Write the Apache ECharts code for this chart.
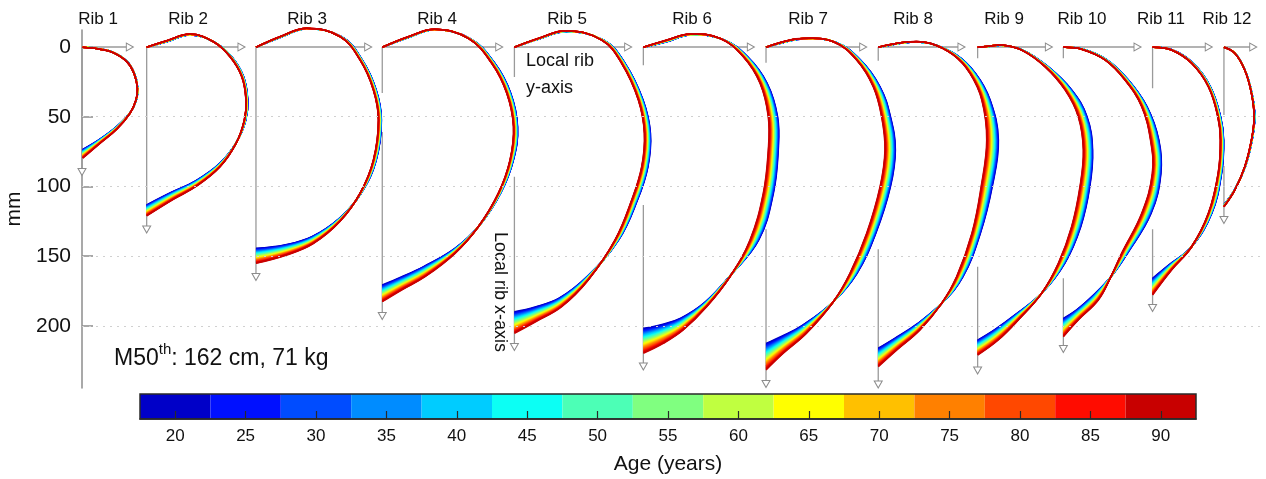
<!DOCTYPE html>
<html>
<head>
<meta charset="utf-8">
<script src="https://cdn.jsdelivr.net/npm/echarts@6/dist/echarts.min.js"></script>
<style>
  html, body { margin: 0; padding: 0; background: #fff; }
  #chart { width: 1266px; height: 479px; }
</style>
</head>
<body>
<div id="chart"></div>
<script>
// ---- data (mm) ----
const RIB_NAMES = ['Rib 1', 'Rib 2', 'Rib 3', 'Rib 4', 'Rib 5', 'Rib 6', 'Rib 7', 'Rib 8', 'Rib 9', 'Rib 10', 'Rib 11', 'Rib 12'];
const RIB_ORIGIN_X = [0, 46.4, 124.8, 215.4, 310.2, 402.7, 490.7, 571.2, 642.5, 704.0, 768.0, 819.2];
// local axes: horizontal arrow end, vertical arrow end, gap in vertical axis
const H_ARROW_END = [34.3, 114.4, 205.3, 299.3, 391.8, 479.8, 560.4, 630.9, 693.6, 757.2, 808.3, 840.2];
const V_ARROW_END = [89.7, 130.9, 165.0, 192.9, 215.2, 229.2, 241.7, 242.1, 232.1, 216.6, 187.2, 124.1];
const V_GAP_FROM = [null, null, null, 33, 21.5, 13, 11.3, 9.8, 8.1, 8.1, 29.6, 48.8];
const V_GAP_TO = [null, null, null, 61, 93, 113.3, 130.8, 145.1, 157.6, 165.9, 130.8, 85.4];

const Y_TICKS = [0, 50, 100, 150, 200];
const AGE_TICKS = ['20', '25', '30', '35', '40', '45', '50', '55', '60', '65', '70', '75', '80', '85', '90'];
const AGE_COLORS = ['#0000c8', '#0010ff', '#004cff', '#008cff', '#00ccff', '#0cfff4', '#4cffb6', '#80ff80', '#c0ff40',
  '#ffff00', '#ffc000', '#ff8000', '#ff4800', '#ff0c00', '#c80000'];
const AGE_YOUNG = 18, AGE_OLD = 92, AGE_STEP = 2;

// rib centrelines, youngest and oldest age
const RIB1_YOUNG = [[0.5,0.2],[12.9,1.4],[22.5,3.8],[32.3,10.3],[37.6,18.9],[40.0,29.6],[39.0,38.0],[34.6,47.0],[24.9,57.0],[12.9,66.0],[0.5,73.4]];
const RIB1_OLD = [[0.5,0.2],[12.9,1.6],[22.5,4.1],[32.1,10.5],[37.3,18.9],[39.7,29.6],[38.7,38.0],[34.4,47.6],[24.9,59.0],[12.9,69.1],[0.5,79.8]];
const RIB2_YOUNG = [[46.4,0.2],[60.8,-3.8],[77.5,-8.6],[95.0,-3.5],[107.2,6.8],[115.8,21.0],[118.9,38.0],[117.5,52.4],[111.0,68.0],[98.8,83.5],[81.5,96.0],[64.5,104.0],[46.4,113.2]];
const RIB2_OLD = [[46.4,0.2],[60.8,-4.5],[77.5,-9.3],[94.2,-3.8],[106.2,7.0],[114.6,21.3],[117.6,38.0],[116.4,52.4],[110.5,69.1],[99.0,85.9],[82.3,99.7],[65.5,109.3],[46.4,121.2]];
const RIB3_YOUNG = [[124.8,0.2],[142.0,-6.8],[161.2,-13.0],[186.5,-7.2],[201.0,9.2],[211.0,30.6],[214.8,52.4],[211.0,81.5],[200.5,104.5],[185.1,122.5],[165.0,136.0],[146.0,141.8],[124.8,144.4]];
const RIB3_OLD = [[124.8,0.2],[142.0,-7.4],[161.2,-13.4],[185.1,-7.4],[199.4,9.3],[209.0,30.8],[212.6,52.4],[209.0,81.1],[199.4,105.0],[185.1,125.0],[165.9,141.0],[146.8,149.2],[124.8,155.2]];
const RIB4_YOUNG = [[215.4,0.2],[234.1,-6.8],[253.2,-12.3],[278.5,-6.0],[296.0,11.5],[307.5,33.0],[312.5,57.2],[309.5,81.1],[300.5,104.5],[285.5,127.5],[267.5,144.5],[245.0,157.5],[229.0,165.0],[215.4,170.7]];
const RIB4_OLD = [[215.4,0.2],[234.1,-7.4],[253.2,-12.7],[277.1,-6.2],[293.9,11.7],[304.7,33.2],[309.5,57.2],[307.0,81.1],[298.6,105.0],[284.3,128.9],[267.6,148.0],[246.1,164.8],[229.3,174.3],[215.4,182.7]];
const RIB5_YOUNG = [[310.2,0.2],[327.3,-5.6],[347.7,-11.0],[374.5,-4.8],[389.5,11.5],[402.5,38.0],[407.8,61.9],[406.0,85.9],[398.5,109.8],[385.0,138.4],[362.5,164.5],[342.5,180.0],[325.0,186.5],[310.2,189.9]];
const RIB5_OLD = [[310.2,0.2],[327.3,-6.2],[347.7,-11.7],[372.8,-5.0],[387.1,11.7],[399.1,38.0],[403.4,61.9],[401.5,85.9],[394.3,109.8],[382.4,138.4],[363.2,167.1],[344.1,186.3],[325.4,197.1],[310.2,205.4]];
const RIB6_YOUNG = [[402.7,0.2],[419.5,-3.8],[436.2,-8.6],[459.5,-5.5],[477.5,7.0],[491.5,26.0],[499.0,50.0],[499.5,73.9],[496.0,105.0],[485.5,138.4],[465.0,164.0],[447.0,183.0],[429.5,194.5],[416.0,199.0],[402.7,201.8]];
const RIB6_OLD = [[402.7,0.2],[419.5,-5.0],[436.2,-9.3],[457.7,-6.2],[474.4,7.0],[486.4,26.0],[492.3,50.0],[492.3,73.9],[488.7,105.0],[479.2,138.4],[464.8,164.8],[448.1,186.3],[431.3,203.0],[417.0,212.6],[402.7,219.7]];
const RIB7_YOUNG = [[490.7,0.2],[503.1,-3.2],[517.4,-5.8],[540.5,-3.5],[558.5,9.3],[572.5,28.5],[580.0,50.0],[583.5,73.9],[580.0,100.2],[569.5,133.6],[556.0,162.3],[539.0,182.7],[517.0,199.5],[502.0,207.5],[490.7,212.6]];
const RIB7_OLD = [[490.7,0.2],[503.1,-3.8],[517.4,-6.2],[539.0,-3.8],[555.7,9.3],[567.6,28.5],[573.6,50.0],[576.0,73.9],[572.5,100.2],[562.9,133.6],[550.9,162.3],[539.0,182.7],[519.7,205.4],[503.1,219.7],[490.7,231.7]];
const RIB8_YOUNG = [[571.2,0.2],[582.0,-1.8],[594.0,-3.4],[609.0,-2.4],[627.0,5.5],[641.0,18.9],[651.5,38.0],[657.4,66.7],[653.0,100.2],[644.5,133.6],[632.0,164.8],[616.7,183.9],[598.5,199.0],[583.0,209.0],[571.2,216.1]];
const RIB8_OLD = [[571.2,0.2],[582.0,-2.2],[594.0,-3.8],[608.3,-2.7],[625.1,5.7],[637.0,18.9],[645.5,38.0],[649.0,66.7],[645.0,100.2],[638.4,133.6],[627.4,164.8],[616.7,183.9],[601.1,203.0],[584.4,217.4],[571.2,229.3]];
const RIB9_YOUNG = [[642.5,0.2],[651.4,-0.5],[659.7,-1.2],[675.0,2.2],[693.0,14.1],[710.0,30.8],[721.0,50.0],[725.0,73.9],[723.0,100.2],[716.5,128.9],[705.0,155.2],[688.4,176.7],[669.5,192.0],[655.0,202.5],[642.5,210.2]];
const RIB9_OLD = [[642.5,0.2],[651.4,-0.7],[659.7,-1.4],[674.1,2.2],[690.8,14.1],[705.2,30.8],[714.7,50.0],[718.3,73.9],[715.9,100.2],[709.9,128.9],[700.4,155.2],[688.4,176.7],[671.7,195.8],[657.3,210.2],[642.5,221.0]];
const RIB10_YOUNG = [[704.0,0.2],[717.5,1.4],[735.0,9.0],[750.5,23.5],[764.0,42.8],[772.5,66.7],[774.0,90.6],[767.0,119.3],[750.0,148.0],[738.0,165.0],[726.0,177.5],[713.5,188.5],[704.0,194.6]];
const RIB10_OLD = [[704.0,0.2],[717.1,1.6],[733.9,9.3],[748.2,23.7],[760.2,42.8],[766.5,66.7],[767.8,90.6],[760.2,119.3],[745.8,148.0],[738.0,165.0],[729.1,181.5],[714.7,195.8],[704.0,207.8]];
const RIB11_YOUNG = [[768.0,0.2],[782.0,2.0],[797.0,11.5],[809.5,28.5],[816.8,50.0],[819.0,66.7],[817.5,90.6],[810.5,119.3],[796.0,143.3],[779.5,156.5],[768.0,165.9]];
const RIB11_OLD = [[768.0,0.2],[781.6,2.2],[796.0,11.7],[808.0,28.5],[814.8,50.0],[816.6,66.7],[815.0,90.6],[808.0,119.3],[796.0,143.3],[781.6,160.0],[768.0,177.9]];
const RIB12_YOUNG = [[819.2,0.2],[827.0,4.3],[834.3,16.5],[839.3,33.2],[841.3,50.0],[839.4,66.7],[834.5,85.9],[827.2,101.8],[819.2,113.2]];
const RIB12_OLD = [[819.2,0.2],[827.0,4.5],[834.1,16.5],[838.9,33.2],[840.8,50.0],[838.9,66.7],[834.1,85.9],[827.0,102.6],[819.2,114.6]];

const YOUNG = [RIB1_YOUNG, RIB2_YOUNG, RIB3_YOUNG, RIB4_YOUNG, RIB5_YOUNG, RIB6_YOUNG, RIB7_YOUNG, RIB8_YOUNG, RIB9_YOUNG, RIB10_YOUNG, RIB11_YOUNG, RIB12_YOUNG];
const OLD = [RIB1_OLD, RIB2_OLD, RIB3_OLD, RIB4_OLD, RIB5_OLD, RIB6_OLD, RIB7_OLD, RIB8_OLD, RIB9_OLD, RIB10_OLD, RIB11_OLD, RIB12_OLD];

const FONT = '"Liberation Sans", Arial, Helvetica, sans-serif';
const AXIS_GREY = '#8c8c8c';

// jet-like colour for an age, blended between the colour bar bins
function hex2rgb(h) {
  return [parseInt(h.substr(1, 2), 16), parseInt(h.substr(3, 2), 16), parseInt(h.substr(5, 2), 16)];
}
function colorForAge(age) {
  let t = (age - 20) / 5;
  t = Math.max(0, Math.min(AGE_COLORS.length - 1, t));
  let i = Math.floor(t), f = t - i;
  if (i >= AGE_COLORS.length - 1) { i = AGE_COLORS.length - 2; f = 1; }
  const a = hex2rgb(AGE_COLORS[i]), b = hex2rgb(AGE_COLORS[i + 1]);
  const c = a.map((v, k) => Math.round(v + (b[k] - v) * f));
  return 'rgb(' + c.join(',') + ')';
}

const series = [];

// local rib axes (arrows)
const arrowItem = { color: '#fff', borderColor: '#8c8c8c', borderWidth: 1 };
RIB_ORIGIN_X.forEach((x0, i) => {
  series.push({
    type: 'line', xAxisIndex: 0, yAxisIndex: 0, silent: true, z: 2,
    showSymbol: true, symbol: 'none',
    lineStyle: { color: '#9a9a9a', width: 1.3 }, itemStyle: arrowItem,
    data: [{ value: [x0, 0], symbol: 'none' },
      { value: [H_ARROW_END[i], 0], symbol: 'triangle', symbolSize: [8, 7], symbolRotate: -90 }],
    markLine: i === 0 ? {
      silent: true, symbol: 'none', label: { show: false },
      lineStyle: { color: '#d0d0d0', type: [2, 5], width: 1 },
      data: Y_TICKS.slice(1).map(v => ({ yAxis: v }))
    } : undefined
  });
  const hasGap = V_GAP_FROM[i] !== null;
  series.push({
    type: 'line', xAxisIndex: 0, yAxisIndex: 0, silent: true, z: 2,
    showSymbol: true, symbol: 'none', connectNulls: false,
    lineStyle: { color: '#9a9a9a', width: 1.3 }, itemStyle: arrowItem,
    data: hasGap
      ? [{ value: [x0, 0], symbol: 'none' }, { value: [x0, V_GAP_FROM[i]], symbol: 'none' }, '-',
        { value: [x0, V_GAP_TO[i]], symbol: 'none' },
        { value: [x0, V_ARROW_END[i]], symbol: 'triangle', symbolSize: [8, 7], symbolRotate: 180 }]
      : [{ value: [x0, 0], symbol: 'none' },
        { value: [x0, V_ARROW_END[i]], symbol: 'triangle', symbolSize: [8, 7], symbolRotate: 180 }]
  });
});

// rib centrelines, one smooth curve per age (custom series so the curve is not clamped)
function curveSeries(pts, color) {
  return {
    type: 'custom', xAxisIndex: 0, yAxisIndex: 0, silent: true, z: 3,
    coordinateSystem: 'cartesian2d',
    data: pts,
    renderItem: function (params, api) {
      if (params.dataIndex !== 0) return null;
      return {
        type: 'polyline',
        shape: { points: pts.map(p => api.coord(p)), smooth: 0.4 },
        style: { stroke: color, lineWidth: 1.5, fill: null }
      };
    }
  };
}
for (let r = 0; r < YOUNG.length; r++) {
  for (let age = AGE_YOUNG; age <= AGE_OLD; age += AGE_STEP) {
    const t = (age - AGE_YOUNG) / (AGE_OLD - AGE_YOUNG);
    const pts = YOUNG[r].map((p, k) => [p[0] + (OLD[r][k][0] - p[0]) * t, p[1] + (OLD[r][k][1] - p[1]) * t]);
    series.push(curveSeries(pts, colorForAge(age)));
  }
}

// colour bar
series.push({
  type: 'bar', xAxisIndex: 1, yAxisIndex: 1, silent: true,
  barCategoryGap: '0%',
  data: AGE_COLORS.map(c => ({ value: 1, itemStyle: { color: c } }))
});

const graphic = RIB_NAMES.map((name, i) => ({
  type: 'text', silent: true,
  x: [98, 188, 307, 437, 567, 692, 808, 913, 1004, 1082, 1161, 1227][i], y: 19,
  style: { text: name, font: '17px ' + FONT, fill: '#111', align: 'center', verticalAlign: 'middle' }
}));
graphic.push(
  { type: 'text', silent: true, x: 526, y: 61,
    style: { text: 'Local rib', font: '18px ' + FONT, fill: '#111', align: 'left', verticalAlign: 'middle' } },
  { type: 'text', silent: true, x: 526, y: 88,
    style: { text: 'y-axis', font: '18px ' + FONT, fill: '#111', align: 'left', verticalAlign: 'middle' } },
  { type: 'text', silent: true, x: 500, y: 292, rotation: -Math.PI / 2,
    style: { text: 'Local rib x-axis', font: '18px ' + FONT, fill: '#111', align: 'center', verticalAlign: 'middle' } },
  { type: 'text', silent: true, x: 114, y: 359,
    style: {
      text: '{a|M50}{b|th}{a|: 162 cm, 71 kg}', verticalAlign: 'middle', align: 'left',
      rich: {
        a: { fontSize: 23, fontFamily: FONT, fill: '#111', lineHeight: 34 },
        b: { fontSize: 15, fontFamily: FONT, fill: '#111', lineHeight: 15, verticalAlign: 'top' }
      }
    } },
  { type: 'rect', silent: true, z: 20, shape: { x: 140, y: 394, width: 1056, height: 25 },
    style: { fill: null, stroke: '#2a2a2a', lineWidth: 1.5 } }
);

const option = {
  animation: false,
  backgroundColor: '#fff',
  textStyle: { fontFamily: FONT },
  grid: [
    { left: 82, top: 30, width: 1180, height: 358, outerBoundsMode: 'none', containLabel: false },
    { left: 140, top: 394, width: 1056, height: 25, outerBoundsMode: 'none', containLabel: false }
  ],
  xAxis: [
    { type: 'value', gridIndex: 0, min: 0, max: 846.5, show: false },
    {
      type: 'category', gridIndex: 1, data: AGE_TICKS, z: 10,
      axisLine: { show: true, lineStyle: { color: '#2a2a2a', width: 1.5 } },
      axisTick: { show: true, inside: true, length: 8, alignWithLabel: true, lineStyle: { color: '#2a2a2a', width: 1.2 } },
      axisLabel: { fontSize: 17, color: '#111', margin: 9 },
      name: 'Age (years)', nameLocation: 'middle', nameGap: 35,
      nameTextStyle: { fontSize: 21, color: '#111' }
    }
  ],
  yAxis: [
    {
      type: 'value', gridIndex: 0, inverse: true, min: -12.2, max: 244.6,
      axisLine: { show: true, lineStyle: { color: AXIS_GREY, width: 1.5 } },
      axisTick: { show: true, inside: true, length: 11, customValues: Y_TICKS, lineStyle: { color: AXIS_GREY, width: 1.5 } },
      axisLabel: { customValues: Y_TICKS, fontSize: 21, color: '#111', margin: 11 },
      splitLine: { show: false },
      name: 'mm', nameLocation: 'middle', nameRotate: 90, nameGap: 53,
      nameTextStyle: { fontSize: 21, color: '#111' }
    },
    { type: 'value', gridIndex: 1, min: 0, max: 1, show: false }
  ],
  graphic: graphic,
  series: series
};

const chart = echarts.init(document.getElementById('chart'), null, { renderer: 'canvas' });
chart.setOption(option);
</script>
</body>
</html>
